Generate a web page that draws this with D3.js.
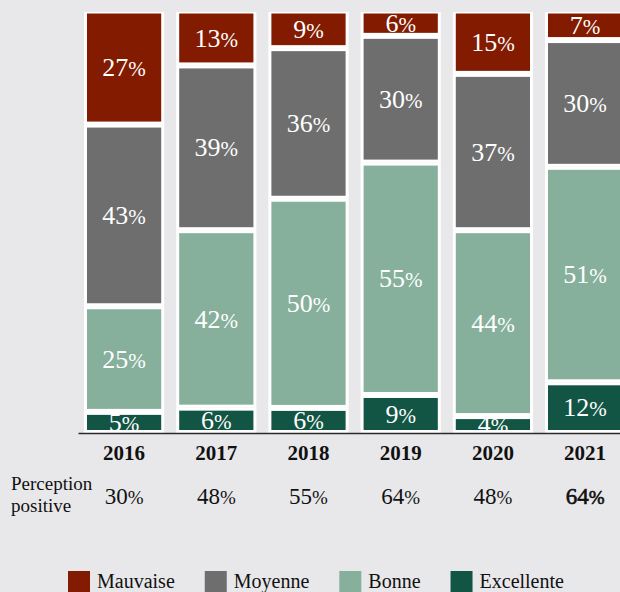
<!DOCTYPE html>
<html>
<head>
<meta charset="utf-8">
<script src="https://cdn.jsdelivr.net/npm/d3@7"></script>
<style>
  html, body { margin: 0; padding: 0; background: #e8e8ea; overflow: hidden; }
  svg { display: block; font-family: "Liberation Serif", "DejaVu Serif", serif; }
</style>
</head>
<body>
<div id="chart"></div>
<script>
"use strict"

// values (percent of answers per year)
const years = ["2016", "2017", "2018", "2019", "2020", "2021"];
const mauvaise = [27, 13, 9, 6, 15, 7];
const moyenne = [43, 39, 36, 30, 37, 30];
const bonne = [25, 42, 50, 55, 44, 51];
const excellente = [5, 6, 6, 9, 4, 12];
const positive = [30, 48, 55, 64, 48, 64];
const categories = ["Mauvaise", "Moyenne", "Bonne", "Excellente"];
const colors = ["#821b00", "#6e6e6e", "#86b09c", "#135544"];

const totalWidth = 620, totalHeight = 592;

const rows = years.map((y, i) => ({
	year: y,
	Mauvaise: mauvaise[i],
	Moyenne: moyenne[i],
	Bonne: bonne[i],
	Excellente: excellente[i],
	positive: positive[i]
}));

const svg = d3.select("#chart").append("svg")
	.attr("width", totalWidth)
	.attr("height", totalHeight);

const xScale = d3.scaleBand()
	.domain(years)
	.range([78, 631.2])
	.paddingInner(0.13)
	.paddingOuter(0.065);

const yScale = d3.scaleLinear().domain([0, 1]).range([433, 10.5]);

const colorScale = d3.scaleOrdinal().domain(categories).range(colors);

// bottom to top
const stack = d3.stack()
	.keys(categories.slice().reverse())
	.offset(d3.stackOffsetExpand);
const series = stack(rows);

svg.append("clipPath").attr("id", "barClip")
	.append("rect")
	.attr("x", 0).attr("y", 12)
	.attr("width", totalWidth).attr("height", 433 - 12);

const barsG = svg.append("g").attr("clip-path", "url(#barClip)");

const layer = barsG.selectAll("g.layer")
	.data(series)
	.enter().append("g")
		.attr("class", "layer")
		.attr("fill", d => colorScale(d.key));

layer.selectAll("rect")
	.data(d => d.map(p => ({ key: d.key, p: p })))
	.enter().append("rect")
		.attr("x", d => xScale(d.p.data.year) + 1.5)
		.attr("y", d => yScale(d.p[1]) + 1.5)
		.attr("width", xScale.bandwidth() - 3)
		.attr("height", d => Math.max(0, yScale(d.p[0]) - yScale(d.p[1]) - 3))
		.attr("stroke", "#fff")
		.attr("stroke-width", 3);

const labels = layer.selectAll("text")
	.data(d => d.map(p => ({ key: d.key, p: p })))
	.enter().append("text")
		.attr("x", d => xScale(d.p.data.year) + xScale.bandwidth() / 2)
		.attr("y", d => (yScale(d.p[0]) + yScale(d.p[1])) / 2)
		.attr("dy", "0.33em")
		.attr("text-anchor", "middle")
		.attr("fill", "#fff")
		.attr("font-size", 26);
labels.append("tspan").text(d => d.p.data[d.key]);
labels.append("tspan").attr("font-size", 21).text("%");

// baseline and year labels
const xAxis = svg.append("g")
	.attr("transform", "translate(0,433)")
	.call(d3.axisBottom(xScale).tickSize(0).tickSizeOuter(0).tickPadding(12));
xAxis.select(".domain").attr("stroke", "#2a2a2a").attr("stroke-width", 1.6);
xAxis.selectAll(".tick text")
	.attr("font-family", "Liberation Serif, serif")
	.attr("font-size", 21)
	.attr("font-weight", "bold")
	.attr("fill", "#111");

// perception positive row
svg.append("text")
	.attr("x", 11).attr("y", 490)
	.attr("font-size", 19).attr("fill", "#111")
	.text("Perception");
svg.append("text")
	.attr("x", 11).attr("y", 512)
	.attr("font-size", 19).attr("fill", "#111")
	.text("positive");

const posText = svg.append("g").selectAll("text")
	.data(rows)
	.enter().append("text")
		.attr("x", d => xScale(d.year) + xScale.bandwidth() / 2)
		.attr("y", 504)
		.attr("text-anchor", "middle")
		.attr("font-size", 23)
		.attr("fill", "#111")
		// last year is set a little heavier
		.attr("stroke", (d, i) => i === rows.length - 1 ? "#111" : "none")
		.attr("stroke-width", 0.6);
posText.append("tspan").text(d => d.positive);
posText.append("tspan").attr("font-size", 19).text("%");

// legend
const legend = svg.append("g");
let lx = 68;
categories.forEach((c, i) => {
	const item = legend.append("g").attr("transform", `translate(${lx},0)`);
	item.append("rect")
		.attr("x", 0).attr("y", 571)
		.attr("width", 22).attr("height", 22)
		.attr("fill", colorScale(c));
	const t = item.append("text")
		.attr("x", 29).attr("y", 588)
		.attr("font-size", 20)
		.attr("fill", "#111")
		.text(c);
	lx += 29 + t.node().getComputedTextLength() + 30;
});
</script>
</body>
</html>
